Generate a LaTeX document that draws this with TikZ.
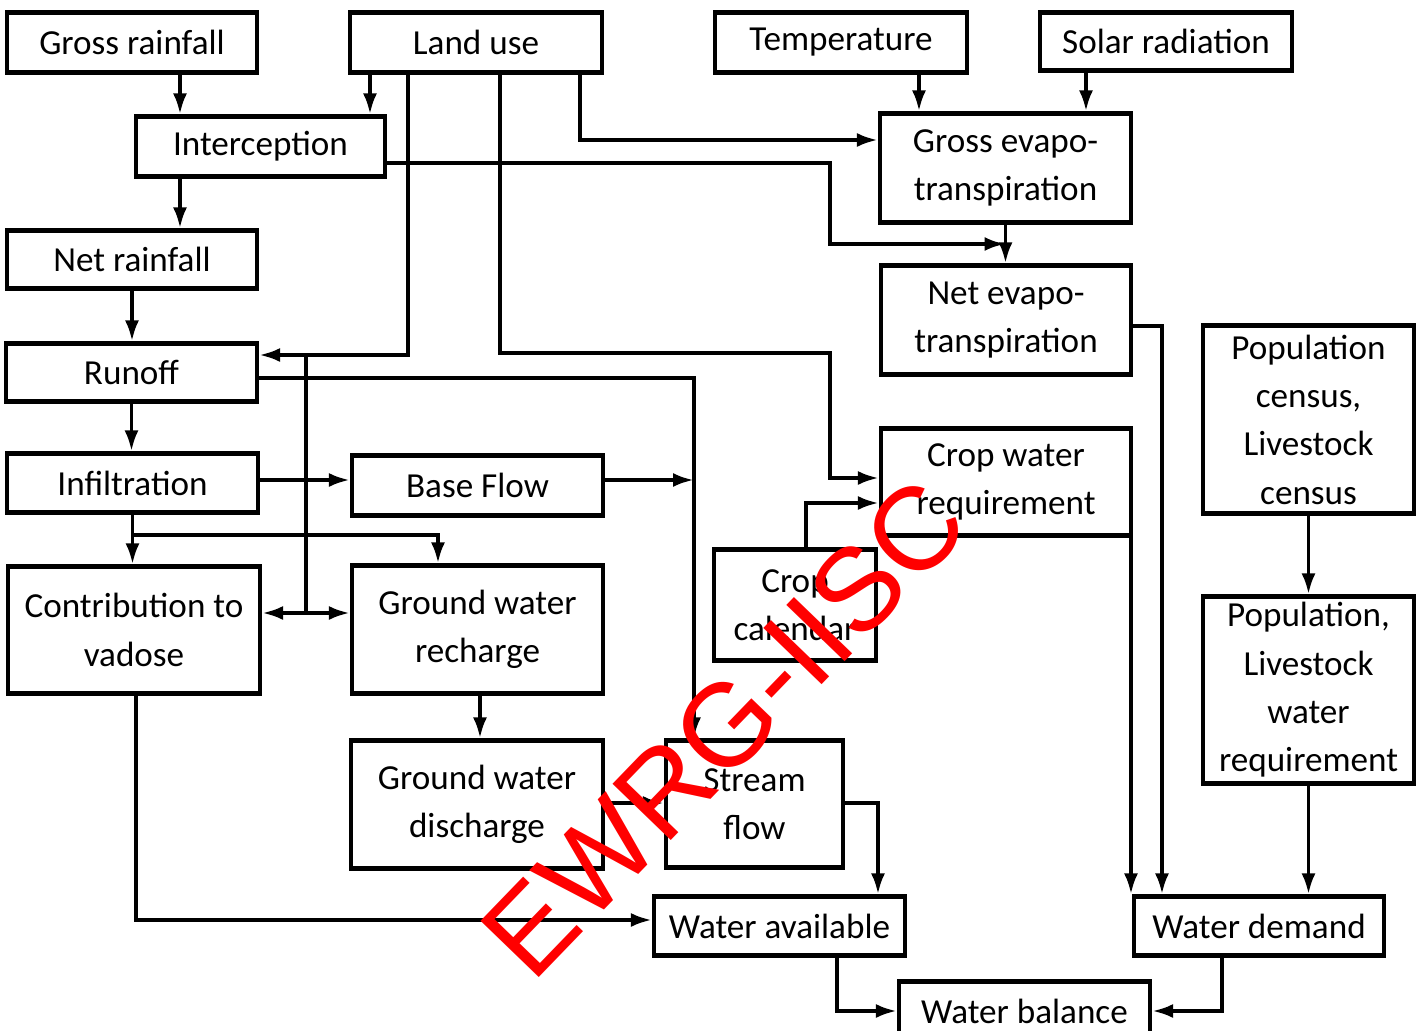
\documentclass[tikz,border=0pt]{standalone}
\usepackage{fontspec}
\setmainfont{Carlito}
\newfontfamily\markfont{Liberation Sans}
\usepackage{tikz}
\usetikzlibrary{arrows.meta}

\begin{document}
\begin{tikzpicture}[x=0.02cm, y=-0.02cm, >={Latex[length=0.42cm,width=0.28cm]}, line width=2.2pt,
    box/.style={draw, line width=2.4pt, align=center, inner sep=0pt,
        font=\fontsize{20}{27.5}\selectfont}]
    \useasboundingbox (0,0) rectangle (1417,1031);

    % Inputs along the top
    \node[box, minimum width=5.0cm, minimum height=1.2cm] (grossrain) at (132,42.5) {Gross rainfall};
    \node[box, minimum width=5.04cm, minimum height=1.2cm] (landuse) at (476,42.5) {Land use};
    \node[box, minimum width=5.04cm, minimum height=1.2cm] (temp) at (841,42.5) {Temperature};
    \node[box, minimum width=5.04cm, minimum height=1.16cm] (solar) at (1166,41.5) {Solar radiation};

    % Rainfall column
    \node[box, minimum width=4.98cm, minimum height=1.2cm] (intercept) at (260.5,146.5) {Interception};
    \node[box, minimum width=5.0cm, minimum height=1.16cm] (netrain) at (132,259.5) {Net rainfall};
    \node[box, minimum width=5.02cm, minimum height=1.16cm] (runoff) at (131.5,372.5) {Runoff};
    \node[box, minimum width=5.02cm, minimum height=1.18cm] (infilt) at (132.5,483) {Infiltration};
    \node[box, minimum width=5.02cm, minimum height=1.2cm] (baseflow) at (477.5,485.5) {Base Flow};
    \node[box, minimum width=5.04cm, minimum height=2.54cm] (contrib) at (134,630) {Contribution to\\vadose};
    \node[box, minimum width=5.02cm, minimum height=2.56cm] (gwrech) at (477.5,629.5) {Ground water\\recharge};
    \node[box, minimum width=5.04cm, minimum height=2.56cm] (gwdis) at (477,804.5) {Ground water\\discharge};
    \node[box, minimum width=3.54cm, minimum height=2.54cm] (stream) at (754.5,804) {Stream\\flow};

    % Evapotranspiration and crops
    \node[box, minimum width=5.02cm, minimum height=2.18cm] (grosset) at (1005.5,168) {Gross evapo-\\transpiration};
    \node[box, minimum width=5.0cm, minimum height=2.18cm] (netet) at (1006,320) {Net evapo-\\transpiration};
    \node[box, minimum width=5.0cm, minimum height=2.14cm] (cropwater) at (1006,482) {Crop water\\requirement};
    \node[box, minimum width=3.24cm, minimum height=2.22cm] (cropcal) at (795,605) {Crop\\calendar};

    % Population
    \node[box, minimum width=4.22cm, minimum height=3.76cm] (popcen) at (1308.5,419.5) {Population\\census,\\Livestock\\census};
    \node[box, minimum width=4.22cm, minimum height=3.74cm] (poplw) at (1308.5,690) {Population,\\Livestock\\water\\requirement};

    % Balance
    \node[box, minimum width=5.02cm, minimum height=1.18cm] (wateravail) at (779.5,926) {Water available};
    \node[box, minimum width=5.0cm, minimum height=1.18cm] (waterdem) at (1259,926) {Water demand};
    \node[box, minimum width=5.02cm, minimum height=1.18cm] (waterbal) at (1024.5,1011) {Water balance};

    % Rainfall chain
    \draw[->] (180,0 |- grossrain.south) -- (180,0 |- intercept.north);
    \draw[->] (370,0 |- landuse.south) -- (370,0 |- intercept.north);
    \draw[->] (180,0 |- intercept.south) -- (180,0 |- netrain.north);
    \draw[->] (netrain.south) -- (netrain.south |- runoff.north);
    \draw[->] (runoff.south) -- (runoff.south |- infilt.north);

    % Land use branches
    \draw[->] (408,0 |- landuse.south) |- (runoff.east |- 0,355);
    \draw[->] (500,0 |- landuse.south) |- (830,353) |- (cropwater.west |- 0,478);
    \draw[->] (580,0 |- landuse.south) |- (grosset.west |- 0,140);
    \draw[->] (intercept.east |- 0,163) -| (830,244) -- (grosset.south |- 0,244);

    % Evapotranspiration
    \draw[->] (919,0 |- temp.south) -- (919,0 |- grosset.north);
    \draw[->] (1086,0 |- solar.south) -- (1086,0 |- grosset.north);
    \draw[->] (grosset.south) -- (grosset.south |- netet.north);

    % Runoff and base flow to stream flow
    \draw[->] (runoff.east |- 0,378) -| (694,0 |- stream.north);
    \draw[->] (infilt.east |- 0,480) -- (baseflow.west |- 0,480);
    \draw[->] (baseflow.east |- 0,480) -- (694,480);

    % Infiltration split
    \draw[->] (infilt.south) -- (infilt.south |- contrib.north);
    \draw[->] (132,535) -| (438,0 |- gwrech.north);
    \draw (306,355) -- (306,613);
    \draw[<->] (contrib.east |- 0,613) -- (gwrech.west |- 0,613);

    % Ground water
    \draw[->] (480,0 |- gwrech.south) -- (480,0 |- gwdis.north);
    \draw[->] (gwdis.east |- 0,803) -- (stream.west |- 0,803);
    \draw[->] (stream.east |- 0,803) -| (878,0 |- wateravail.north);
    \draw[->] (136,0 |- contrib.south) |- (wateravail.west |- 0,920);

    % Crops and demand
    \draw[->] (806,0 |- cropcal.north) |- (cropwater.west |- 0,503);
    \draw[->] (1131,0 |- cropwater.south) -- (1131,0 |- waterdem.north);
    \draw[->] (netet.east |- 0,326) -| (1162,0 |- waterdem.north);
    \draw[->] (popcen.south) -- (popcen.south |- poplw.north);
    \draw[->] (poplw.south) -- (poplw.south |- waterdem.north);

    % Water balance
    \draw[->] (837,0 |- wateravail.south) |- (waterbal.west);
    \draw[->] (1222,0 |- waterdem.south) |- (waterbal.east);

    % Watermark
    \node[red, rotate=46, font=\markfont\fontsize{67}{67}\selectfont] (mark) at (724,728) {EWRG-IISC};
\end{tikzpicture}
\end{document}
